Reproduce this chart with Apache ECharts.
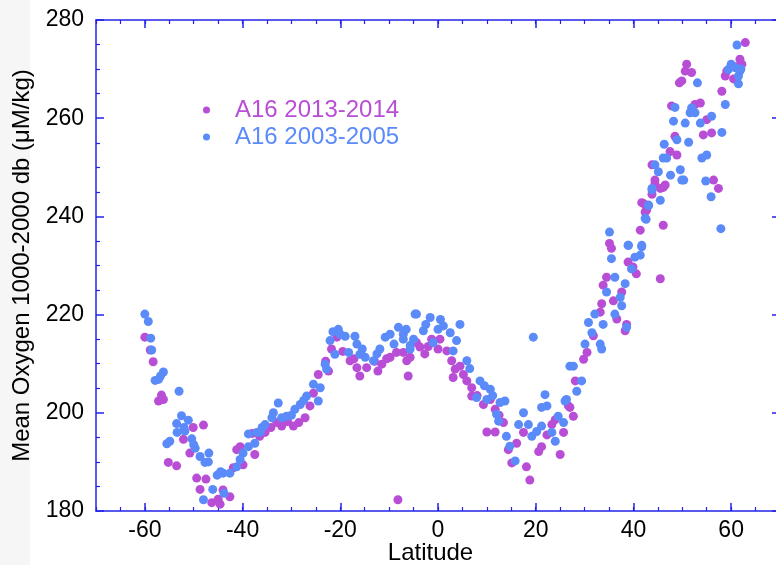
<!DOCTYPE html>
<html>
<head>
<meta charset="utf-8">
<script src="https://cdn.jsdelivr.net/npm/echarts@6/dist/echarts.min.js"></script>
<style>
  html, body { margin: 0; padding: 0; background: #fff; }
  #chart { width: 776px; height: 565px; }
</style>
</head>
<body>
<div id="chart"></div>
<script>
// A16 2013-2014
var lat2013 = [
  -60.0, -58.9, -58.3, -56.6, -57.2, -56.2, -50.1, -48.0, -52.1, -50.8, -55.2, -53.5, -49.4, -48.7, -46.3, -45.0,
  -44.6, -44.0, -42.6, -41.2, -41.9, -39.9, -37.5, -40.5, -38.0, -47.5,
  -35.4, -33.0, -32.0, -29.6, -27.2, -26.2, -24.5, -22.4, -21.8, -20.7, -18.0, -16.6, -16.0, -14.6, -11.5, -9.8,
  -8.5, -7.1, -6.1, -5.7, -4.4, -30.8, -28.5, -34.2, -25.5, -23.0, -19.5, -17.2, -13.0, -10.5, -12.3, -36.5,
  -6.4, -3.7, -2.7, -1.3, 0.4, 1.8, 2.8, 3.5, 3.1, 5.2, 5.9, 6.9, 6.9, 9.3, 10.7, 11.7, 13.4, 10.0, 11.7, 14.4,
  15.1, 16.1, 18.1, 18.8, 17.5, 20.6, 21.2, 22.3, 23.3, 24.0, 25.0, 25.7, 26.7, -8.2, 0.0, -2.0, 8.0, 4.5, 12.5,
  27.0, 27.7, 28.1, 29.8, 30.5, 31.8, 33.2, 33.5, 33.8, 34.5, 35.9, 36.6, 37.6, 38.3, 38.6, 38.9, 39.9, 40.6,
  35.1, 35.5, 41.4, 42.1, 42.7, 44.4, 46.1, 45.5, 46.1,
  62.9, 61.8, 62.2, 59.1, 58.8, 50.9, 50.6, 51.9, 49.9, 49.4, 58.1, 47.8, 53.7, 52.6, 55.0, 54.3, 56.0, 48.5,
  47.5, 48.9, 43.8, 44.4, 46.5, 45.5, 43.8, 56.4, 57.4, 41.7, 42.4, 60.5, 61.0
];
var oxy2013 = [
  215.4, 212.8, 210.4, 203.6, 202.4, 202.7, 197.0, 197.5, 194.6, 191.8, 189.9, 189.2, 186.7, 184.4, 181.7, 182.4,
  181.4, 184.3, 182.9, 192.5, 188.8, 189.4, 191.5, 193.1, 195.8, 186.5,
  196.0, 198.0, 197.3, 197.3, 199.0, 201.4, 207.8, 208.5, 213.0, 215.4, 210.6, 209.2, 207.5, 209.2, 209.9, 211.3,
  212.3, 212.3, 207.5, 211.3, 214.3, 198.2, 198.0, 197.0, 204.0, 210.5, 212.5, 211.0, 210.5, 211.0, 208.5, 195.2,
  210.6, 213.4, 212.0, 215.0, 215.0, 212.6, 210.6, 208.9, 207.2, 207.8, 206.5, 205.1, 203.4, 201.7, 202.7, 200.7,
  198.0, 196.1, 196.1, 192.5, 189.8, 193.8, 189.0, 186.3, 196.0, 192.1, 193.1, 195.5, 197.6, 198.6, 191.5, 196.0,
  201.4, 182.3, 213.0, 213.5, 203.5, 209.5, 199.5,
  201.1, 199.3, 206.5, 210.9, 212.3, 215.7, 220.5, 222.2, 226.0, 227.6, 222.8, 219.1, 224.6, 216.7, 218.0, 230.7,
  229.7, 228.3, 234.5, 233.5, 237.2, 242.6, 241.3, 246.6, 238.2, 227.3, 245.9,
  275.4, 272.0, 271.0, 269.6, 268.6, 271.0, 269.6, 269.3, 267.6, 267.2, 265.5, 262.5, 263.1, 262.8, 259.7, 256.6,
  257.0, 256.3, 253.2, 252.5, 250.5, 247.4, 246.4, 245.7, 244.5, 247.4, 245.7, 242.8, 240.9, 268.0, 270.5
];

// A16 2003-2005
var lat2003 = [
  -60.0, -59.3, -58.8, -58.6, -56.2, -57.2, -57.9, -53.0, -52.5, -53.5, -51.1, -51.8, -53.4, -55.5, -54.9, -50.4,
  -49.7, -48.7, -47.7, -46.9, -45.2, -44.0, -46.1, -43.8, -48.0, -42.6, -41.2, -39.9, -38.8, -38.8, -37.5, -36.4,
  -56.8, -52.0, -50.0, -47.0, -44.5, -40.5,
  -37.1, -35.4, -33.7, -32.7, -31.0, -29.3, -28.2, -26.9, -25.5, -24.1, -24.5, -23.1, -22.8, -22.1, -21.1, -20.4,
  -19.0, -17.0, -16.6, -18.3, -16.0, -14.9, -13.2, -11.9, -10.8, -9.8, -8.1, -7.1, -5.0, -4.7, -5.7,
  -34.0, -30.0, -27.5, -21.5, -15.5, -12.5, -9.0, -20.0, -36.0, -32.0,
  -7.1, -5.7, -4.4, -3.0, -1.6, -1.0, 1.1, 2.5, 3.8, 4.5, 3.1, 5.9, 8.6, 10.7, 7.9, 10.0, 12.7, 13.7, 12.0, 12.4,
  14.0, 14.7, 15.8, 17.5, 16.5, 18.5, 19.2, 20.2, 21.2, 19.5, 21.9, 22.3, 21.2, 23.3, 24.0, 24.6, 25.7, 26.3, 27.0,
  -2.5, 0.0, 0.5, 6.5, 9.5, 11.2, -6.5,
  26.0, 27.7, 28.4, 29.4, 30.1, 31.5, 30.8, 32.1, 33.2, 33.8, 33.5, 34.5, 36.2, 36.2, 37.3, 37.6, 38.3, 38.6,
  35.5, 35.1, 38.9, 39.6, 40.3, 41.4, 41.7, 42.6, 43.1, 43.8, 45.5, 50.3,
  61.2, 59.4, 60.8, 61.5, 61.8, 61.5, 53.1, 48.5, 51.9, 51.6, 52.6, 48.2, 50.6, 53.7, 56.0, 58.8, 58.1, 48.9,
  46.3, 51.3, 46.8, 46.1, 54.0, 55.0, 44.4, 45.1, 47.6, 49.6, 49.9, 43.8, 43.1, 42.4, 54.8, 55.9, 57.9, 39.0,
  41.7, 60.0, 62.0
];
var oxy2003 = [
  220.1, 218.6, 215.2, 212.8, 208.3, 206.8, 206.6, 204.4, 199.4, 197.8, 198.5, 196.3, 196.0, 193.7, 194.2, 194.7,
  192.8, 191.1, 189.9, 191.8, 187.3, 187.7, 184.4, 183.6, 182.3, 187.7, 189.0, 191.8, 193.1, 195.7, 193.8, 196.0,
  207.5, 197.0, 193.5, 190.0, 188.0, 190.5,
  196.0, 197.6, 200.0, 202.0, 199.3, 200.7, 201.7, 203.4, 205.8, 205.1, 202.4, 209.9, 208.9, 214.7, 211.9, 217.0,
  215.6, 215.6, 214.0, 212.3, 211.9, 211.3, 210.6, 213.0, 215.4, 216.0, 217.4, 215.0, 215.0, 220.1, 213.0,
  199.0, 199.5, 202.5, 216.5, 213.0, 212.0, 214.0, 216.0, 197.0, 199.0,
  216.0, 213.7, 220.1, 216.7, 219.4, 214.3, 217.7, 216.3, 214.7, 218.0, 212.6, 210.6, 206.5, 204.8, 203.1, 202.7,
  202.1, 202.4, 199.7, 198.3, 195.2, 193.2, 190.2, 200.0, 197.6, 197.6, 195.2, 196.2, 197.3, 215.4, 203.7, 201.4,
  201.1, 196.0, 194.2, 199.3, 198.0, 202.7, 209.5,
  218.0, 217.0, 219.0, 209.0, 205.5, 203.5, 217.0,
  202.4, 209.5, 204.4, 206.5, 214.0, 216.3, 218.4, 220.1, 214.0, 218.0, 213.0, 224.6, 220.1, 227.6, 223.5, 221.8,
  226.3, 217.4, 231.4, 236.8, 234.1, 229.3, 231.7, 232.1, 233.8, 239.4, 242.2, 245.7, 243.3, 247.4,
  274.9, 269.9, 270.3, 268.6, 269.6, 267.0, 267.2, 262.2, 262.1, 261.1, 261.1, 259.4, 259.0, 259.0, 260.4, 262.8,
  257.1, 255.6, 254.7, 255.1, 251.9, 251.9, 251.9, 252.5, 250.5, 249.1, 248.4, 249.5, 247.4, 245.4, 242.3, 239.6,
  247.2, 244.0, 237.5, 234.1, 234.1, 271.0, 270.0
];

var seriesNames = ['A16 2013-2014', 'A16 2003-2005'];
var seriesColors = ['#b94ed6', '#5b8af9'];
var xTickLabels = [-60, -40, -20, 0, 20, 40, 60];

function pairs(xs, ys) {
  var out = [];
  for (var i = 0; i < xs.length; i++) {
    out.push([xs[i], ys[i]]);
  }
  return out;
}

var axisBlue = '#2323e8';
var fontFam = '"Liberation Sans", Arial, Helvetica, sans-serif';

// minor ticks every 5, major (longer) ticks at the labels
function xAxisPart(pos, major, withLabels) {
  return {
    type: 'value',
    position: pos,
    min: -70,
    max: 70,
    interval: 5,
    axisLine: { show: !major, onZero: false, lineStyle: { color: axisBlue, width: 1.5 } },
    axisTick: major
      ? { inside: true, length: 8, customValues: xTickLabels, lineStyle: { color: axisBlue, width: 1.5 } }
      : { inside: true, length: 4, lineStyle: { color: axisBlue, width: 1.2 } },
    axisLabel: withLabels
      ? { customValues: xTickLabels, fontSize: 23, color: '#000', margin: 8, fontFamily: fontFam }
      : { show: false },
    splitLine: { show: false }
  };
}

function yAxisPart(pos, withLabels) {
  return {
    type: 'value',
    position: pos,
    min: 180,
    max: 280,
    interval: 20,
    axisLine: { show: true, onZero: false, lineStyle: { color: axisBlue, width: 1.5 } },
    axisTick: { inside: true, length: 8, lineStyle: { color: axisBlue, width: 1.5 } },
    minorTick: { show: true, splitNumber: 4, length: 4, lineStyle: { color: axisBlue, width: 1.2 } },
    axisLabel: withLabels
      ? { fontSize: 23, color: '#000', margin: 12, fontFamily: fontFam }
      : { show: false },
    splitLine: { show: false },
    minorSplitLine: { show: false }
  };
}

var chart = echarts.init(document.getElementById('chart'));

var bottomAxis = xAxisPart('bottom', false, true);
bottomAxis.name = 'Latitude';
bottomAxis.nameLocation = 'middle';
bottomAxis.nameGap = 30;
bottomAxis.nameMoveOverlap = false;
bottomAxis.nameTextStyle = { fontSize: 24, color: '#000', fontFamily: fontFam, padding: [0, 15, 0, 0] };

var leftAxis = yAxisPart('left', true);
leftAxis.name = 'Mean Oxygen 1000-2000 db (\u03bcM/kg)';
leftAxis.nameLocation = 'middle';
leftAxis.nameGap = 60;
leftAxis.nameTextStyle = { fontSize: 24, color: '#000', fontFamily: fontFam };

var option = {
  animation: false,
  backgroundColor: '#fff',
  textStyle: { fontFamily: fontFam },
  graphic: [{
    type: 'rect',
    left: 0,
    top: 0,
    z: -10,
    shape: { width: 30, height: 565 },
    style: { fill: '#f6f6f6' }
  }],
  grid: { left: 96, right: -4, top: 20, bottom: 54, outerBoundsMode: 'none' },
  legend: {
    orient: 'vertical',
    left: 203,
    top: 98,
    padding: 0,
    icon: 'circle',
    itemWidth: 47,
    itemHeight: 7,
    itemGap: 3,
    textStyle: { fontSize: 24, lineHeight: 24, fontFamily: fontFam },
    data: [
      { name: seriesNames[0], textStyle: { color: seriesColors[0] } },
      { name: seriesNames[1], textStyle: { color: seriesColors[1] } }
    ]
  },
  xAxis: [
    bottomAxis,
    xAxisPart('bottom', true, false),
    xAxisPart('top', false, false),
    xAxisPart('top', true, false)
  ],
  yAxis: [
    leftAxis,
    yAxisPart('right', false)
  ],
  series: [
    {
      name: seriesNames[0],
      type: 'scatter',
      xAxisIndex: 0,
      yAxisIndex: 0,
      symbolSize: 9,
      itemStyle: { color: seriesColors[0], opacity: 1 },
      data: pairs(lat2013, oxy2013)
    },
    {
      name: seriesNames[1],
      type: 'scatter',
      xAxisIndex: 0,
      yAxisIndex: 0,
      symbolSize: 9,
      itemStyle: { color: seriesColors[1], opacity: 1 },
      data: pairs(lat2003, oxy2003)
    }
  ]
};

chart.setOption(option);
</script>
</body>
</html>
